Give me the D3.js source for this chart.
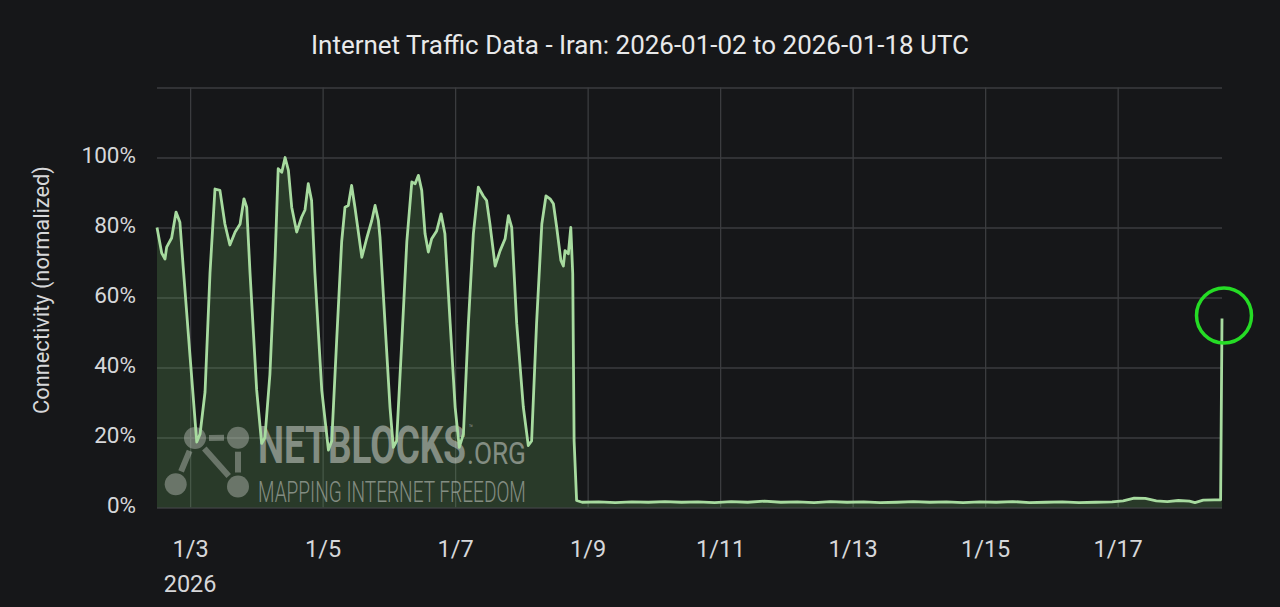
<!DOCTYPE html>
<html><head><meta charset="utf-8">
<script src="https://cdn.jsdelivr.net/npm/d3@7"></script>
<style>
html,body{margin:0;padding:0;background:#161719;}
svg{display:block;}
</style></head><body>
<svg id="chart" width="1280" height="607"></svg>
<script>
// ---------- data ----------
const chartTitle = "Internet Traffic Data - Iran: 2026-01-02 to 2026-01-18 UTC";
const yAxisTitle = "Connectivity (normalized)";
const baseTime = "2026-01-02T00:00:00Z";
// hours since baseTime
const hours = [
  12.0,13.7,14.9,15.5,17.3,18.9,20.3,21.5,24.0,26.4,27.6,29.4,31.2,33.0,34.8,36.6,38.4,40.3,42.1,43.5,44.5,45.7,
  48.1,49.9,51.1,52.9,54.8,55.9,57.2,58.4,59.6,60.8,62.6,64.4,65.6,66.8,68.0,69.2,
  71.7,74.1,75.3,77.1,78.9,80.1,81.3,82.5,83.7,86.2,88.0,89.8,91.0,92.2,92.8,94.6,
  96.4,97.6,98.8,100.7,102.5,104.3,105.5,106.7,107.9,109.1,110.3,111.5,113.3,114.9,116.3,118.2,
  120.0,121.5,123.0,124.8,126.6,128.4,130.2,131.4,132.6,134.5,136.3,138.1,139.3,140.5,142.3,
  144.7,146.5,147.7,149.5,151.4,152.9,154.4,155.6,156.8,158.3,159.2,159.8,161.0,161.9,162.6,163.1,164.0,
  166,172,178,184,190,196,202,208,214,220,226,232,238,244,250,256,262,268,274,280,286,292,298,304,310,
  316,322,328,334,340,346,352,358,362,366,370,374,378,382,386,388,391,395,397.3,397.8
];
// connectivity, % of normal
const connectivity = [
  80,72.7,71,74.4,77,84.4,81.5,68.6,42.9,18.7,21,33,67,91,90.6,81,75,78.7,81,88.2,85.8,67,
  33.6,18.3,20,38,71.5,96.8,95.8,100,96.3,85.8,78.7,83,85,92.5,87.7,67,
  33.4,16.4,19,48,76,85.8,86.3,92,85.8,71.5,77,82,86.3,82,77,52.6,
  28.7,17.2,19,47.7,76,93,92.5,94.9,90.6,78.2,73,76.8,79,83.9,78.2,52.6,
  28.7,17.2,21,52.6,78.2,91.5,89,87.7,81,69,73.4,76.8,83.4,80,52.6,
  28.7,17.7,19,52.6,81,89,88.2,86.8,80,70.6,69,73.4,72.5,80,66.8,19,2,
  1.5,1.6,1.4,1.6,1.5,1.7,1.5,1.6,1.4,1.7,1.5,1.8,1.5,1.6,1.4,1.7,1.5,1.6,1.4,1.5,1.7,1.5,1.6,1.4,1.6,
  1.5,1.7,1.4,1.5,1.6,1.4,1.5,1.6,1.9,2.7,2.6,1.9,1.7,2.0,1.8,1.4,2.1,2.2,2.2,54
];
const xTickDates = ["2026-01-03","2026-01-05","2026-01-07","2026-01-09","2026-01-11","2026-01-13","2026-01-15","2026-01-17"];
const yearLabel = "2026";
const yTicks = [0,20,40,60,80,100,120];
const yLabelTicks = [0,20,40,60,80,100];
const watermarkTexts = ["NETBLOCKS", ".ORG", "™", "MAPPING INTERNET FREEDOM"];

// ---------- layout ----------
const W = 1280, H = 607;
const margin = {top: 87.5, right: 58, bottom: 99.5, left: 157};
const iw = W - margin.left - margin.right;
const ih = H - margin.top - margin.bottom;
const base = new Date(baseTime).getTime();
const data = hours.map((h, i) => ({t: new Date(base + h * 3600e3), v: connectivity[i]}));

const svg = d3.select("#chart");
svg.append("rect").attr("width", W).attr("height", H).attr("fill", "#161719");

const x = d3.scaleUtc().domain(d3.extent(data, d => d.t)).range([0, iw]);
const y = d3.scaleLinear().domain([0, 120]).range([ih, 0]);

const g = svg.append("g").attr("transform", `translate(${margin.left},${margin.top})`);

const gridColor = "#3b3c3f";
const textColor = "#d6d7d9";
const font = "Roboto, sans-serif";

// horizontal grid + y labels
const yAxis = g.append("g").call(
  d3.axisLeft(y).tickValues(yTicks).tickSize(-iw).tickPadding(21)
    .tickFormat(d => yLabelTicks.includes(d) ? d + "%" : "")
);
yAxis.select(".domain").remove();
yAxis.selectAll(".tick line").attr("stroke", gridColor).attr("stroke-width", 1.3);
yAxis.selectAll(".tick text").attr("fill", textColor).attr("font-family", font)
  .attr("font-size", 22.5).attr("dy", "0.22em");

// vertical grid + x labels
const tickDates = xTickDates.map(s => new Date(s + "T00:00:00Z"));
const xAxis = g.append("g").attr("transform", `translate(0,${ih})`).call(
  d3.axisBottom(x).tickValues(tickDates).tickSize(-ih).tickPadding(33)
    .tickFormat(d => (d.getUTCMonth() + 1) + "/" + d.getUTCDate())
);
xAxis.select(".domain").remove();
xAxis.selectAll(".tick line").attr("stroke", gridColor).attr("stroke-width", 1.3);
xAxis.selectAll(".tick text").attr("fill", textColor).attr("font-family", font)
  .attr("font-size", 23.5).attr("dy", "0.69em");
xAxis.append("text").attr("x", x(tickDates[0])).attr("y", 84.5)
  .attr("text-anchor", "middle").attr("fill", textColor)
  .attr("font-family", font).attr("font-size", 23.5).text(yearLabel);

// area
const area = d3.area().x(d => x(d.t)).y0(y(0)).y1(d => y(d.v));
const line = d3.line().x(d => x(d.t)).y(d => y(d.v));
g.append("path").datum(data).attr("d", area).attr("fill", "rgba(115,191,105,0.21)");

// watermark
const wm = g.append("g").attr("opacity", 0.54);
const wmFill = "#d0d3ce";
const nodes = [[38, 350.5], [81, 350.2], [18.7, 396.8], [81, 399]];
const links = [[0, 1], [0, 2], [0, 3], [1, 3]];
links.forEach(([a, b]) => {
  const [x1, y1] = nodes[a], [x2, y2] = nodes[b];
  const dx = x2 - x1, dy = y2 - y1, L = Math.hypot(dx, dy), r = 14;
  wm.append("line")
    .attr("x1", x1 + dx / L * r).attr("y1", y1 + dy / L * r)
    .attr("x2", x2 - dx / L * r).attr("y2", y2 - dy / L * r)
    .attr("stroke", wmFill).attr("stroke-width", 6).attr("opacity", 0.72);
});
nodes.forEach(([cx, cy]) => wm.append("circle").attr("cx", cx).attr("cy", cy).attr("r", 11)
  .attr("fill", wmFill).attr("opacity", 0.72));

const brand = wm.append("text").attr("font-family", font).attr("fill", wmFill);
const t1 = brand.append("tspan").attr("x", 0).attr("font-weight", "bold").attr("font-size", 51).text(watermarkTexts[0]);
const w1 = t1.node().getComputedTextLength();
const sx = 208 / w1;
brand.attr("transform", `translate(101,375) scale(${sx},1)`);
brand.append("tspan").attr("x", 211 / sx).attr("dy", -32).attr("font-size", 9).text(watermarkTexts[2]);

const org = wm.append("text").attr("font-family", font).attr("font-size", 32)
  .attr("fill", wmFill).text(watermarkTexts[1]);
const w2 = org.node().getComputedTextLength();
org.attr("transform", `translate(310,376) scale(${59 / w2},1)`);

const tag = wm.append("text").attr("font-family", font).attr("font-weight", 300)
  .attr("font-size", 29).attr("fill", wmFill).text(watermarkTexts[3]);
const w3 = tag.node().getComputedTextLength();
tag.attr("transform", `translate(101,414.5) scale(${268 / w3},1)`);

// line
g.append("path").datum(data).attr("d", line).attr("fill", "none")
  .attr("stroke", "#a7db9f").attr("stroke-width", 2.8).attr("stroke-linejoin", "round");

// highlight circle at the final spike
const last = data[data.length - 1];
g.append("circle").attr("cx", x(last.t) + 2).attr("cy", y(last.v) - 3).attr("r", 27.5)
  .attr("fill", "none").attr("stroke", "#25dc25").attr("stroke-width", 3.5);

// titles
const title = svg.append("text").attr("x", 640).attr("y", 54).attr("text-anchor", "middle")
  .attr("fill", "#e8e9ea").attr("font-family", font).attr("font-size", 25)
  .text(chartTitle);
const tw = title.node().getComputedTextLength();
if (Math.abs(tw - 658) > 6) title.attr("textLength", 658).attr("lengthAdjust", "spacingAndGlyphs");
svg.append("text").attr("transform", "translate(49,290) rotate(-90)").attr("text-anchor", "middle")
  .attr("fill", textColor).attr("font-family", font).attr("font-size", 21.8)
  .text(yAxisTitle);
</script>
</body></html>
